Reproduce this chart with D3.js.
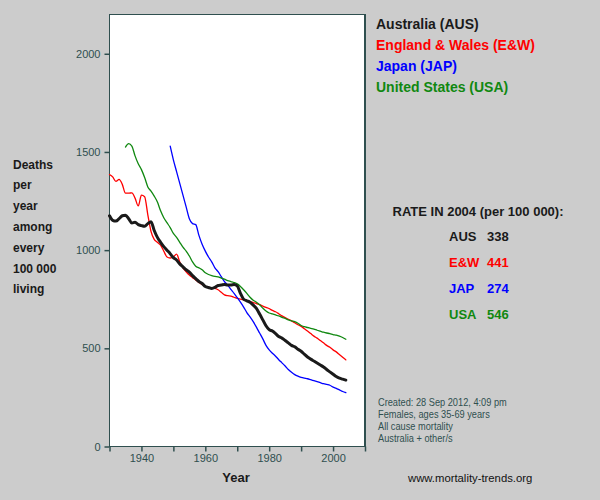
<!DOCTYPE html>
<html>
<head>
<meta charset="utf-8">
<script src="https://cdn.jsdelivr.net/npm/d3@7"></script>
<style>
html,body{margin:0;padding:0;background:#cccccc;}
svg{display:block;}
text{font-family:"Liberation Sans", Arial, sans-serif;}
</style>
</head>
<body>
<svg id="chart" width="600" height="500"></svg>
<script>
const years = [1930,1931,1932,1933,1934,1935,1936,1937,1938,1939,
  1940,1941,1942,1943,1944,1945,1946,1947,1948,1949,
  1950,1951,1952,1953,1954,1955,1956,1957,1958,1959,
  1960,1961,1962,1963,1964,1965,1966,1967,1968,1969,
  1970,1971,1972,1973,1974,1975,1976,1977,1978,1979,
  1980,1981,1982,1983,1984,1985,1986,1987,1988,1989,
  1990,1991,1992,1993,1994,1995,1996,1997,1998,1999,
  2000,2001,2002,2003,2004];

const ausValues = [1175,1152,1148,1160,1175,1178,1160,1138,1142,1130,
  1125,1122,1135,1145,1100,1065,1040,1018,1000,982,
  962,950,930,915,900,888,870,855,840,830,
  815,810,805,810,820,822,825,822,822,825,
  818,780,750,742,735,720,703,675,645,615,
  595,588,575,560,552,540,528,515,508,495,
  485,470,456,445,435,425,415,405,392,380,
  368,356,348,343,338];

const ewValues = [1385,1373,1350,1360,1335,1290,1290,1292,1265,1225,
  1280,1272,1180,1095,1055,1040,1025,995,965,960,
  965,980,940,910,890,873,860,848,835,825,
  815,810,808,805,798,785,772,768,766,760,
  754,750,747,744,738,733,728,722,715,708,
  702,693,686,676,665,656,648,640,630,620,
  612,600,588,575,562,552,540,528,515,505,
  492,482,468,454,441];

const japValues = [null,null,null,null,null,null,null,null,null,null,
  null,null,null,null,null,null,null,null,null,1530,
  1460,1400,1340,1280,1220,1160,1135,1130,1075,1030,
  995,965,940,910,890,865,840,822,800,780,
  758,735,710,682,660,636,608,578,548,515,
  492,475,460,442,426,410,392,378,366,358,
  352,348,345,340,335,330,325,320,316,312,
  302,296,288,280,274];

const usaValues = [null,null,null,null,null,1525,1542,1530,1480,1440,
  1410,1370,1322,1300,1275,1245,1200,1165,1140,1115,
  1085,1065,1040,1015,995,970,940,918,910,900,
  885,876,870,866,864,858,852,845,840,835,
  828,815,798,780,760,745,735,722,705,690,
  680,675,670,665,658,652,645,640,636,628,
  616,610,606,602,598,592,587,582,578,575,
  570,567,562,555,546];

const seriesNames = ["Australia (AUS)","England & Wales (E&W)","Japan (JAP)","United States (USA)"];
const seriesCodes = ["AUS","E&W","JAP","USA"];
const rate2004 = [338,441,274,546];
const seriesColors = ["#1a1a1a","#ff0000","#0000ff","#108810"];
const seriesWidths = [3,1.3,1.3,1.3];
const allValues = [ausValues, ewValues, japValues, usaValues];

const xTicks = [1930,1940,1950,1960,1970,1980,1990,2000,2010];
const xLabelled = [1940,1960,1980,2000];
const yTicks = [0,500,1000,1500,2000];
const yLabelLines = ["Deaths","per","year","among","every","100 000","living"];
const noteLines = ["Created: 28 Sep 2012, 4:09 pm","Females, ages 35-69 years","All cause mortality","Australia + other/s"];

const svg = d3.select("#chart");
const axisColor = "#2f4f4f";

const x = d3.scaleLinear().domain([1930,2010]).range([109.5,365]);
const y = d3.scaleLinear().domain([0,2200]).range([446.5,14.5]);

// plot area
svg.append("rect")
  .attr("x", x(1930)).attr("y", y(2200))
  .attr("width", x(2010)-x(1930)).attr("height", y(0)-y(2200))
  .attr("fill","#ffffff").attr("stroke",axisColor).attr("stroke-width",1.5)
  .attr("shape-rendering","crispEdges");

// axes
const xAxis = d3.axisBottom(x).tickValues(xTicks).tickSize(5).tickPadding(3)
  .tickFormat(d => xLabelled.includes(d) ? String(d) : "");
const gx = svg.append("g").attr("transform",`translate(0,${y(0)})`).call(xAxis);
const yAxis = d3.axisLeft(y).tickValues(yTicks).tickSize(5).tickPadding(4).tickFormat(d3.format("d"));
const gy = svg.append("g").attr("transform",`translate(${x(1930)},0)`).call(yAxis);
[gx,gy].forEach(g => {
  g.select(".domain").remove();
  g.selectAll(".tick line").attr("stroke",axisColor).attr("stroke-width",1.5);
  g.selectAll(".tick text").attr("fill",axisColor)
    .style("font-family","'Liberation Sans', Arial, sans-serif").style("font-size","11px");
});

// lines (Australia drawn last, on top)
const drawOrder = [1,2,3,0];
drawOrder.forEach(i => {
  const line = d3.line()
    .defined(d => d[1] != null)
    .x(d => x(d[0])).y(d => y(d[1]))
    .curve(d3.curveMonotoneX);
  svg.append("path")
    .datum(years.map((yr,j) => [yr, allValues[i][j]]))
    .attr("d", line)
    .attr("fill","none")
    .attr("stroke", seriesColors[i])
    .attr("stroke-width", seriesWidths[i])
    .attr("stroke-linejoin","round").attr("stroke-linecap","round");
});

// axis titles
svg.append("text").attr("x",236).attr("y",482).attr("text-anchor","middle")
  .attr("font-weight","bold").attr("font-size","13px").attr("fill","#1a1a1a").text("Year");

svg.selectAll("text.ylab").data(yLabelLines).enter().append("text")
  .attr("class","ylab")
  .attr("x",13).attr("y",(d,i)=>168.5 + i*20.8)
  .attr("font-weight","bold").attr("font-size","12px").attr("fill","#1a1a1a")
  .text(d=>d);

// legend
svg.selectAll("text.leg").data(seriesNames).enter().append("text")
  .attr("class","leg")
  .attr("x",376).attr("y",(d,i)=>29 + i*21.1)
  .attr("font-weight","bold").attr("font-size","14px")
  .attr("fill",(d,i)=>seriesColors[i])
  .text(d=>d);

// rate panel
svg.append("text").attr("x",478).attr("y",215.5).attr("text-anchor","middle")
  .attr("font-weight","bold").attr("font-size","13px").attr("fill","#1a1a1a")
  .text("RATE IN 2004 (per 100 000):");
seriesCodes.forEach((c,i) => {
  svg.append("text").attr("x",449).attr("y",240.5 + i*26)
    .attr("font-weight","bold").attr("font-size","13px").attr("fill",seriesColors[i]).text(c);
  svg.append("text").attr("x",487).attr("y",240.5 + i*26)
    .attr("font-weight","bold").attr("font-size","13px").attr("fill",seriesColors[i]).text(String(rate2004[i]));
});

// notes (horizontally condensed like the original)
const notes = svg.append("g").attr("transform","translate(378,0) scale(0.84,1)");
notes.selectAll("text.note").data(noteLines).enter().append("text")
  .attr("class","note")
  .attr("x",0).attr("y",(d,i)=>406 + i*12)
  .attr("font-size","11px").attr("fill",axisColor)
  .text(d=>d);

svg.append("text").attr("x",408).attr("y",482)
  .attr("font-size","11.3px").attr("fill","#111111").text("www.mortality-trends.org");
</script>
</body>
</html>
